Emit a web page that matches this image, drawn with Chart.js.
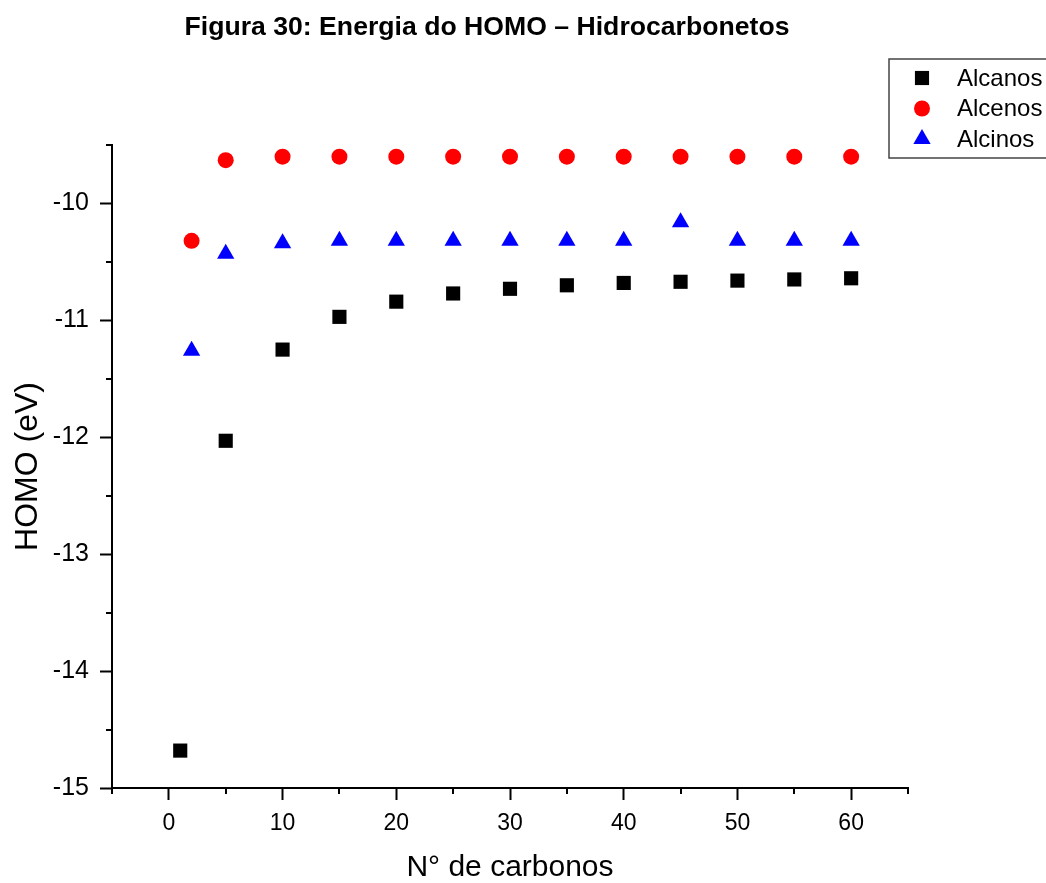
<!DOCTYPE html>
<html>
<head>
<meta charset="utf-8">
<script src="https://cdn.jsdelivr.net/npm/chart.js@4.4.1/dist/chart.umd.min.js"></script>
<style>
  html, body { margin: 0; padding: 0; background: #fff; }
  #wrap { width: 1046px; height: 883px; }
</style>
</head>
<body>
<div id="wrap"><canvas id="homoChart" width="1046" height="883"></canvas></div>
<script>
const chartTitle = "Figura 30: Energia do HOMO – Hidrocarbonetos";
const seriesNames = ["Alcanos", "Alcenos", "Alcinos"];

const alcanosX = [1, 5, 10, 15, 20, 25, 30, 35, 40, 45, 50, 55, 60];
const alcanosY = [-14.68, -12.03, -11.25, -10.97, -10.84, -10.77, -10.73, -10.70, -10.68, -10.67, -10.66, -10.65, -10.64];

const alcenosX = [2, 5, 10, 15, 20, 25, 30, 35, 40, 45, 50, 55, 60];
const alcenosY = [-10.32, -9.63, -9.60, -9.60, -9.60, -9.60, -9.60, -9.60, -9.60, -9.60, -9.60, -9.60, -9.60];

const alcinosX = [2, 5, 10, 15, 20, 25, 30, 35, 40, 45, 50, 55, 60];
const alcinosY = [-11.26, -10.43, -10.34, -10.32, -10.32, -10.32, -10.32, -10.32, -10.32, -10.16, -10.32, -10.32, -10.32];

const xMin = -5, xMax = 65, xStep = 5, xLabelEvery = 10;
const yMin = -15, yMax = -9.5, yStep = 0.5;

const FONT = "'Liberation Sans', Arial, sans-serif";

const toPoints = (xs, ys) => xs.map((x, i) => ({ x: x, y: ys[i] }));

// minor ticks are shorter than the major ones
const minorTicks = {
  id: "minorTicks",
  afterDraw(chart) {
    const ctx = chart.ctx;
    const xs = chart.scales.x, ys = chart.scales.y;
    ctx.save();
    ctx.strokeStyle = "#000";
    ctx.lineWidth = 2;
    ctx.beginPath();
    xs.ticks.forEach(t => {
      if (t.value % xLabelEvery !== 0) {
        const px = Math.round(xs.getPixelForValue(t.value));
        ctx.moveTo(px, xs.top);
        ctx.lineTo(px, xs.top + 6);
      }
    });
    ys.ticks.forEach(t => {
      if (!Number.isInteger(t.value)) {
        const py = Math.round(ys.getPixelForValue(t.value));
        ctx.moveTo(ys.right, py);
        ctx.lineTo(ys.right - 6, py);
      }
    });
    ctx.stroke();
    ctx.restore();
  }
};

// title and boxed legend drawn like the original figure
const frame = {
  id: "frame",
  afterDraw(chart) {
    const ctx = chart.ctx;
    ctx.save();
    ctx.fillStyle = "#000";
    ctx.font = "bold 25px " + FONT;
    ctx.textAlign = "center";
    ctx.textBaseline = "middle";
    const w = ctx.measureText(chartTitle).width;
    ctx.save();
    ctx.translate(487, 28);
    ctx.scale(605 / w, 1);
    ctx.fillText(chartTitle, 0, 0);
    ctx.restore();

    ctx.strokeStyle = "#444";
    ctx.lineWidth = 1.5;
    ctx.strokeRect(889, 59, 170, 99);

    ctx.font = "24px " + FONT;
    ctx.textAlign = "left";
    chart.data.datasets.forEach((ds, i) => {
      const y = 78 + i * 30.5;
      ctx.fillStyle = ds.backgroundColor;
      Chart.helpers.drawPoint(ctx, {
        pointStyle: ds.pointStyle, radius: ds.pointRadius, rotation: 0, borderWidth: 0
      }, 922, y);
      ctx.fillStyle = "#000";
      ctx.fillText(ds.label, 957, y + 1);
    });
    ctx.restore();
  }
};

new Chart("homoChart", {
  type: "scatter",
  data: {
    datasets: [{
      label: seriesNames[0],
      data: toPoints(alcanosX, alcanosY),
      pointStyle: "rect",
      pointRadius: 10,
      backgroundColor: "#000000",
      borderWidth: 0
    }, {
      label: seriesNames[1],
      data: toPoints(alcenosX, alcenosY),
      pointStyle: "circle",
      pointRadius: 8,
      backgroundColor: "#ff0000",
      borderWidth: 0
    }, {
      label: seriesNames[2],
      data: toPoints(alcinosX, alcinosY),
      pointStyle: "triangle",
      pointRadius: 10,
      backgroundColor: "#0000ff",
      borderWidth: 0
    }]
  },
  options: {
    responsive: false,
    animation: false,
    devicePixelRatio: 1,
    layout: { padding: { top: 145, right: 138, left: 0, bottom: 0 } },
    plugins: {
      legend: { display: false },
      title: { display: false },
      tooltip: { enabled: false }
    },
    scales: {
      x: {
        type: "linear",
        min: xMin,
        max: xMax,
        afterFit: s => { s.height = 95; },
        border: { display: true, color: "#000", width: 2 },
        grid: {
          drawOnChartArea: false,
          tickLength: 12,
          tickWidth: 2,
          tickColor: c => (c.tick && c.tick.value % xLabelEvery === 0) ? "#000" : "rgba(0,0,0,0)"
        },
        ticks: {
          stepSize: xStep,
          autoSkip: false,
          maxRotation: 0,
          padding: 10,
          color: "#000",
          font: { family: FONT, size: 23 },
          callback: v => (v % xLabelEvery === 0 ? v : "")
        },
        title: {
          display: true,
          text: "N° de carbonos",
          color: "#000",
          font: { family: FONT, size: 30, lineHeight: 1 },
          padding: { top: 0, bottom: 0 }
        }
      },
      y: {
        type: "linear",
        min: yMin,
        max: yMax,
        afterFit: s => { s.width = 112; },
        border: { display: true, color: "#000", width: 2 },
        grid: {
          drawOnChartArea: false,
          tickLength: 12,
          tickWidth: 2,
          tickColor: c => (c.tick && Number.isInteger(c.tick.value)) ? "#000" : "rgba(0,0,0,0)"
        },
        ticks: {
          stepSize: yStep,
          autoSkip: false,
          padding: 11,
          color: "#000",
          font: { family: FONT, size: 25 },
          callback: v => (Number.isInteger(v) ? v : "")
        },
        title: {
          display: true,
          text: "HOMO (eV)",
          color: "#000",
          font: { family: FONT, size: 32 },
          padding: { top: 9, bottom: 0 }
        }
      }
    }
  },
  plugins: [minorTicks, frame]
});
</script>
</body>
</html>
